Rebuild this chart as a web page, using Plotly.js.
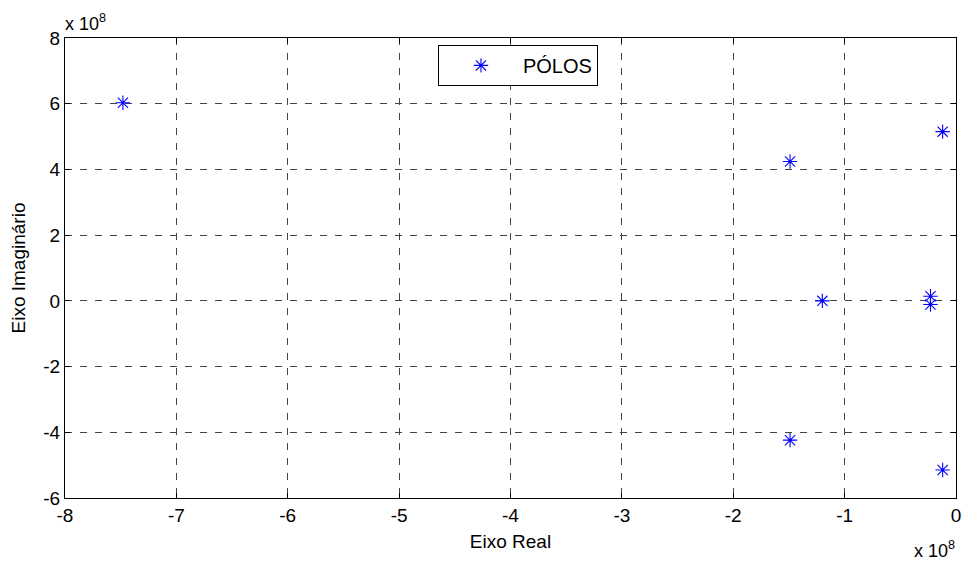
<!DOCTYPE html>
<html>
<head>
<meta charset="utf-8">
<script src="https://cdn.plot.ly/plotly-3.0.1.min.js"></script>
<style>
  html, body { margin: 0; padding: 0; background: #fff; }
  #plot { width: 966px; height: 562px; }
</style>
</head>
<body>
<div id="plot"></div>
<script>
// Poles of the system, real and imaginary parts in units of 1e8
const poleReal = [-7.48, -1.49, -1.49, -0.12, -0.12, -1.20, -0.229, -0.229];
const poleImag = [6.03, 4.24, -4.24, 5.15, -5.15, 0.0, 0.14, -0.11];

const xTicks = [-8, -7, -6, -5, -4, -3, -2, -1, 0];
const yTicks = [-6, -4, -2, 0, 2, 4, 6, 8];

const FONT = 'Liberation Sans, Arial, Helvetica, sans-serif';
const FS = 19;

const trace = {
  type: 'scatter',
  mode: 'markers',
  name: 'PÓLOS',
  x: poleReal,
  y: poleImag,
  marker: {
    symbol: 'asterisk-open',
    size: 12,
    color: '#0000ff',
    line: { color: '#0000ff', width: 1.1 }
  }
};

const axisCommon = {
  showline: true,
  linecolor: '#000',
  linewidth: 1,
  mirror: 'ticks',
  ticks: 'inside',
  ticklen: 5,
  tickcolor: '#000',
  showgrid: true,
  gridcolor: '#444',
  griddash: '7px,8px',
  gridwidth: 1,
  zeroline: false,
  tickfont: { family: FONT, size: FS, color: '#000' },
  fixedrange: true
};

const layout = {
  width: 966,
  height: 562,
  margin: { l: 65, r: 10, t: 38, b: 64 },
  paper_bgcolor: '#fff',
  plot_bgcolor: '#fff',
  font: { family: FONT, size: FS, color: '#000' },
  xaxis: Object.assign({}, axisCommon, {
    range: [-8, 0],
    tickvals: xTicks,
    ticktext: xTicks.map(String),
    title: { text: 'Eixo Real', font: { family: FONT, size: FS }, standoff: 9 }
  }),
  yaxis: Object.assign({}, axisCommon, {
    range: [-6, 8],
    tickvals: yTicks,
    ticktext: yTicks.map(String),
    title: { text: 'Eixo Imaginário', font: { family: FONT, size: FS }, standoff: 12 }
  }),
  showlegend: true,
  legend: {
    x: 0.4186,
    y: 0.985,
    xanchor: 'left',
    yanchor: 'top',
    bgcolor: '#fff',
    bordercolor: '#000',
    borderwidth: 1,
    itemwidth: 74,
    font: { family: FONT, size: 20, color: '#000' }
  },
  annotations: [
    {
      xref: 'paper', yref: 'paper', x: 0, y: 1, xanchor: 'left', yanchor: 'bottom',
      xshift: -2, yshift: 2,
      text: 'x 10<sup>8</sup>', showarrow: false,
      font: { family: FONT, size: 18, color: '#000' }
    },
    {
      xref: 'paper', yref: 'paper', x: 1, y: 0, xanchor: 'right', yanchor: 'top',
      xshift: 1, yshift: -38,
      text: 'x 10<sup>8</sup>', showarrow: false,
      font: { family: FONT, size: 18, color: '#000' }
    }
  ]
};

Plotly.newPlot('plot', [trace], layout, { displayModeBar: false, staticPlot: true });
</script>
</body>
</html>
